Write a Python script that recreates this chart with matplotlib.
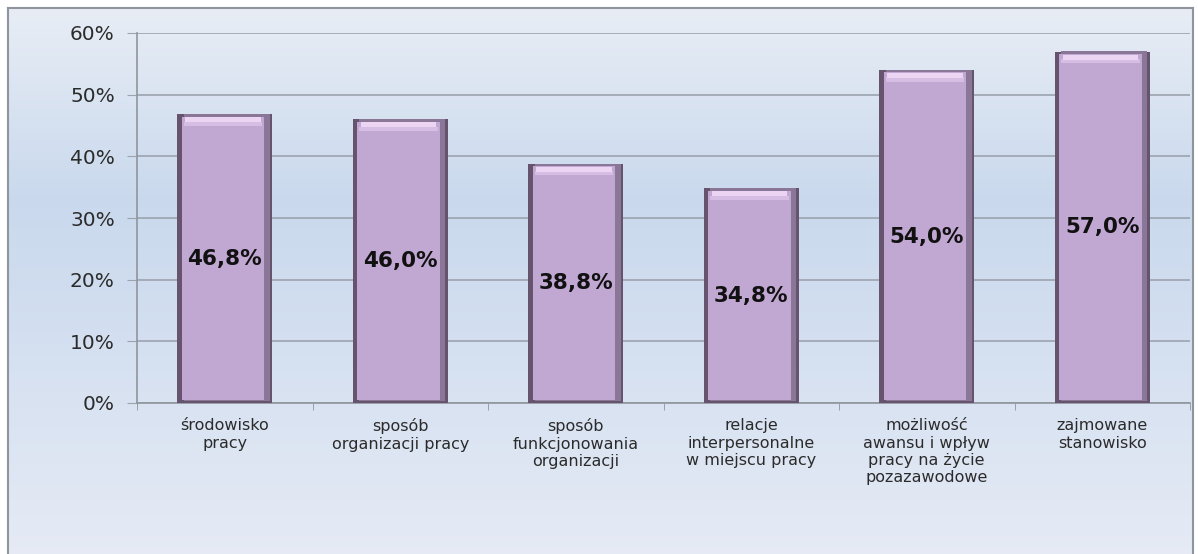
import numpy as np
import matplotlib
matplotlib.use('Agg')
from matplotlib import pyplot as plt
from matplotlib.ticker import FuncFormatter

categories = ['środowisko\npracy',
              'sposób\norganizacji pracy',
              'sposób\nfunkcjonowania\norganizacji',
              'relacje\ninterpersonalne\nw miejscu pracy',
              'możliwość\nawansu i wpływ\npracy na życie\npozazawodowe',
              'zajmowane\nstanowisko']
values = [46.8, 46.0, 38.8, 34.8, 54.0, 57.0]
value_labels = ['46,8%', '46,0%', '38,8%', '34,8%', '54,0%', '57,0%']
yticks = [0, 10, 20, 30, 40, 50, 60]

fig = plt.figure(figsize=(11.98, 5.54), dpi=100)
fig.patch.set_facecolor('white')

# background panel with vertical gradient
bg = fig.add_axes([8/1198, 0, 1185/1198, 546/554])
grad = np.array([[0.0], [0.35], [0.55], [1.0]])
cols = np.array([[0.91, 0.93, 0.96], [0.79, 0.85, 0.93], [0.82, 0.87, 0.94], [0.90, 0.92, 0.96]])
yy = np.linspace(0, 1, 256)
img = np.stack([np.interp(yy, grad[:, 0], cols[:, c]) for c in range(3)], axis=-1)[:, None, :]
bg.imshow(img, aspect='auto', extent=[0, 1, 1, 0])
bg.set_xticks([]); bg.set_yticks([])
bg.spines['bottom'].set_visible(False)
for s in ['top', 'left', 'right']:
    bg.spines[s].set_color('#8f959c')
    bg.spines[s].set_linewidth(1.5)

ax = fig.add_axes([137/1198, 1-403/554, 1053/1198, 370/554])
ax.patch.set_alpha(0)

x = np.arange(len(values))
w = 0.54
v = np.array(values)
# bevelled bars: dark frame, lighter body, pink top highlight
ax.bar(x, v, width=w, color='#66546f', zorder=3)
ax.bar(x + 0.012, v - 0.4, width=w - 0.05, bottom=0.4, color='#8a7697', zorder=3)
ax.bar(x - 0.01, v - 0.9, width=w - 0.07, bottom=0.5, color='#c1a8d3', zorder=4)
ax.bar(x - 0.01, 0.7, width=w - 0.09, bottom=v - 1.9, color='#d6bde4', zorder=4)
ax.bar(x - 0.01, 0.8, width=w - 0.11, bottom=v - 1.3, color='#ebd5f3', zorder=4)

for xi, vi, lab in zip(x, values, value_labels):
    ax.text(xi, vi / 2, lab, ha='center', va='center', fontsize=15.5,
            fontweight='bold', color='#111111', zorder=5)

ax.set_xlim(-0.5, len(values) - 0.5)
ax.set_ylim(0, 60)
ax.set_yticks(yticks)
ax.yaxis.set_major_formatter(FuncFormatter(lambda t, p: '%d%%' % t))
ax.yaxis.grid(True, color='#9ba3ae', linewidth=1.2, zorder=0)
ax.set_axisbelow(True)
ax.tick_params(axis='y', labelsize=14.5, colors='#2b2b2b', length=7, color='#9ba3ae', pad=9)
ax.set_xticks(x)
ax.set_xticklabels(categories, fontsize=11.5, color='#2b2b2b', va='top', linespacing=1.2)
ax.tick_params(axis='x', length=0, pad=11)
ax.set_xticks(np.arange(len(values) + 1) - 0.5, minor=True)
ax.tick_params(axis='x', which='minor', length=5, color='#8f959c')
for s in ['top', 'right']:
    ax.spines[s].set_visible(False)
for s in ['left', 'bottom']:
    ax.spines[s].set_color('#8f959c')
    ax.spines[s].set_linewidth(1.2)

fig.savefig('out.png', dpi=100, facecolor=fig.get_facecolor())
